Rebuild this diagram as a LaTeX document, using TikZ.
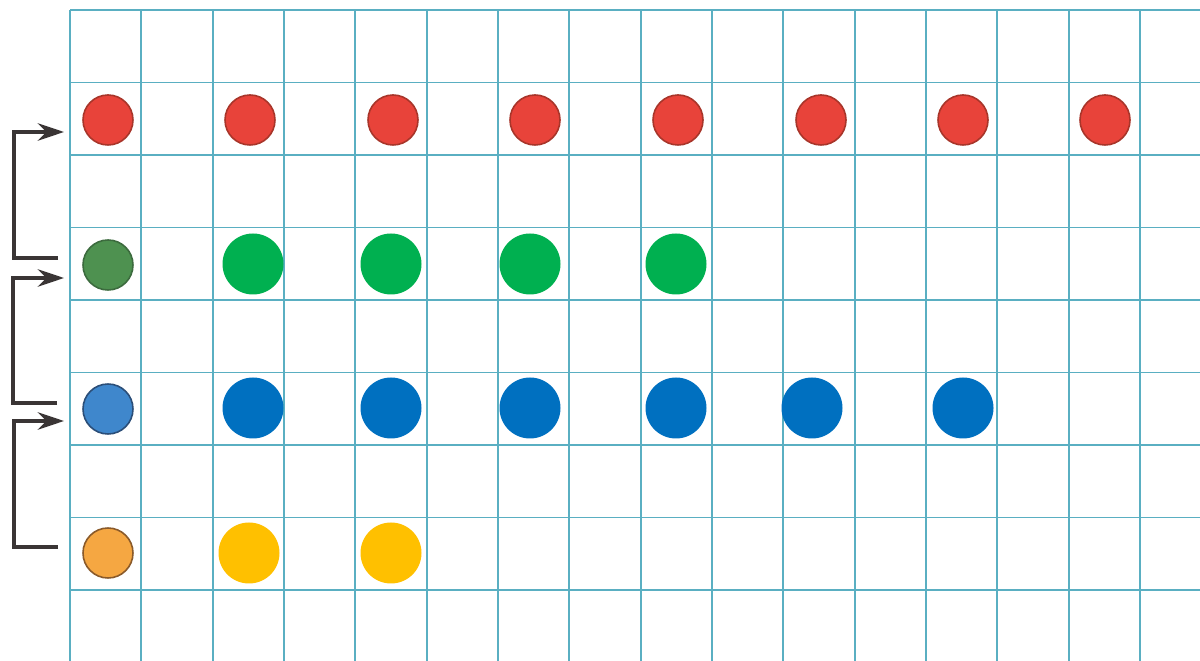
\documentclass[tikz,border=0pt]{standalone}
\usetikzlibrary{arrows.meta}
\definecolor{gridc}{HTML}{5AAFC2}
\definecolor{redf}{HTML}{E8433A}
\definecolor{rede}{HTML}{A8352A}
\definecolor{smgreen}{HTML}{4E9150}
\definecolor{smgreene}{HTML}{3C6B3E}
\definecolor{smblue}{HTML}{3F87CC}
\definecolor{smbluee}{HTML}{2B4E78}
\definecolor{smorange}{HTML}{F5A742}
\definecolor{smorangee}{HTML}{8A5A2A}
\definecolor{bgreen}{HTML}{00B050}
\definecolor{bblue}{HTML}{0070C0}
\definecolor{byellow}{HTML}{FFC000}
\definecolor{arrowc}{HTML}{3A3535}
\tikzset{
  gridline/.style={draw=gridc, line width=1.1pt},
  dot/.style={circle, inner sep=0pt, minimum size=50*0.02cm, line width=0.9pt},
  bigdot/.style={circle, inner sep=0pt, minimum size=61*0.02cm, draw=none},
  reddot/.style={dot, fill=redf, draw=rede},
  bracket/.style={draw=arrowc, line width=2pt},
  bracketarrow/.style={bracket, -{Stealth[length=15pt,width=10pt,inset=5pt]}}
}
\begin{document}
\begin{tikzpicture}[x=0.02cm,y=-0.02cm]
\fill[white] (0,0) rectangle (1200,661);
\useasboundingbox (0,0) rectangle (1200,661);
% grid
\foreach \i in {0,...,15} {
  \draw[gridline] ({70+71.33*\i},10) -- ({70+71.33*\i},661);
}
\foreach \j in {0,...,8} {
  \draw[gridline] (70,{10+72.5*\j}) -- (1200,{10+72.5*\j});
}
% red row
\foreach \k/\x in {1/108,2/250,3/393,4/535,5/678,6/821,7/963,8/1105} {
  \node[reddot] (r\k) at (\x,120) {};
}
% green row
\node[dot, fill=smgreen, draw=smgreene] (g0) at (108,265) {};
\foreach \k/\x in {1/253,2/391,3/530,4/676} {
  \node[bigdot, fill=bgreen] (g\k) at (\x,264) {};
}
% blue row
\node[dot, fill=smblue, draw=smbluee] (b0) at (108,409) {};
\foreach \k/\x in {1/253,2/391,3/530,4/676,5/812,6/963} {
  \node[bigdot, fill=bblue] (b\k) at (\x,408) {};
}
% orange row
\node[dot, fill=smorange, draw=smorangee] (o0) at (108,553) {};
\foreach \k/\x in {1/249,2/391} {
  \node[bigdot, fill=byellow] (o\k) at (\x,553) {};
}
% brackets
\coordinate (a1s) at (58,258);
\coordinate (a1c) at (14,258);
\coordinate (a1t) at (14,132);
\coordinate (a1e) at (64,132);
\draw[bracketarrow] (a1s) -- (a1c) -- (a1t) -- (a1e);
\coordinate (a2s) at (57,403);
\coordinate (a2c) at (13,403);
\coordinate (a2t) at (13,278);
\coordinate (a2e) at (64,278);
\draw[bracketarrow] (a2s) -- (a2c) -- (a2t) -- (a2e);
\coordinate (a3s) at (58,547);
\coordinate (a3c) at (14,547);
\coordinate (a3t) at (14,421);
\coordinate (a3e) at (64,421);
\draw[bracketarrow] (a3s) -- (a3c) -- (a3t) -- (a3e);
\end{tikzpicture}
\end{document}
